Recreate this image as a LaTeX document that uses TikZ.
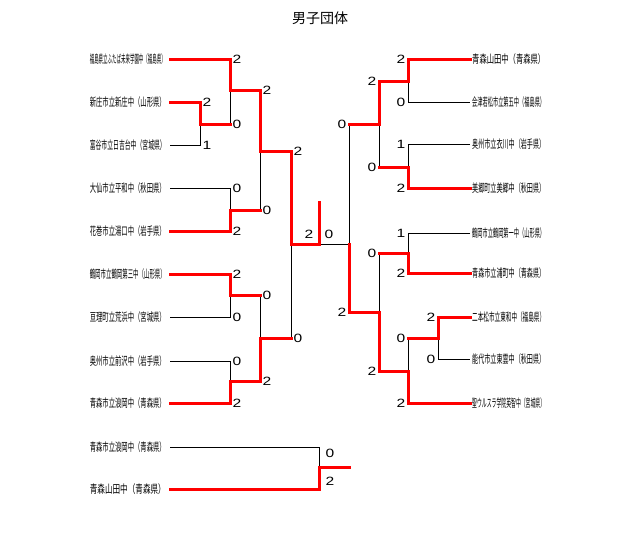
\documentclass[tikz,border=0pt]{standalone}
\usepackage{fontspec}
\usepackage{graphicx}
\setmainfont{Liberation Sans}
\newfontfamily\jpfont{Noto Sans CJK JP}
\newcommand\lnm[1]{\resizebox{76pt}{\height}{\jpfont\fontsize{11.5pt}{12pt}\selectfont #1}}
\newcommand\rnm[1]{\resizebox{73pt}{\height}{\jpfont\fontsize{11.5pt}{12pt}\selectfont #1}}
\newcommand\dg[1]{\scalebox{1.3}[1]{\fontsize{12pt}{12pt}\selectfont #1}}
\begin{document}
\begin{tikzpicture}[x=1pt,y=-1pt,
  win/.style={draw=red,line width=3pt,line cap=rect},
  lose/.style={draw=black,line width=0.9pt},
  lname/.style={anchor=east,inner sep=0pt},
  rname/.style={anchor=west,inner sep=0pt},
  sl/.style={anchor=west,inner sep=0pt,xshift=2.5pt},
  sr/.style={anchor=east,inner sep=0pt,xshift=-2.5pt},
  sc/.style={inner sep=0pt},
  title/.style={inner sep=0pt,font=\jpfont\fontsize{14pt}{14pt}\selectfont}]
\useasboundingbox (0,0) rectangle (640,533);
\node[title] (T) at (320,18) {男子団体};
% left names
\node[lname] (L1) at (166,59) {\lnm{福島県立ふたば未来学園中（福島県）}};
\node[lname] (L2) at (166,102) {\lnm{新庄市立新庄中（山形県）}};
\node[lname] (L3) at (166,145) {\lnm{富谷市立日吉台中（宮城県）}};
\node[lname] (L4) at (166,188) {\lnm{大仙市立平和中（秋田県）}};
\node[lname] (L5) at (166,231) {\lnm{花巻市立湯口中（岩手県）}};
\node[lname] (L6) at (166,274) {\lnm{鶴岡市立鶴岡第三中（山形県）}};
\node[lname] (L7) at (166,317) {\lnm{亘理町立荒浜中（宮城県）}};
\node[lname] (L8) at (166,361) {\lnm{奥州市立前沢中（岩手県）}};
\node[lname] (L9) at (166,403) {\lnm{青森市立浪岡中（青森県）}};
\node[lname] (L10) at (166,447) {\lnm{青森市立浪岡中（青森県）}};
\node[lname] (L11) at (166,489) {\lnm{青森山田中（青森県）}};
% right names
\node[rname] (R1) at (472,59) {\rnm{青森山田中（青森県）}};
\node[rname] (R2) at (472,102) {\rnm{会津若松市立第五中（福島県）}};
\node[rname] (R3) at (472,144) {\rnm{奥州市立衣川中（岩手県）}};
\node[rname] (R4) at (472,188) {\rnm{美郷町立美郷中（秋田県）}};
\node[rname] (R5) at (472,233) {\rnm{鶴岡市立鶴岡第一中（山形県）}};
\node[rname] (R6) at (472,273) {\rnm{青森市立浦町中（青森県）}};
\node[rname] (R7) at (472,317) {\rnm{二本松市立東和中（福島県）}};
\node[rname] (R8) at (472,359) {\rnm{能代市立東雲中（秋田県）}};
\node[rname] (R9) at (472,403) {\rnm{聖ウルスラ学院英智中（宮城県）}};
% line ends at names
\foreach \i in {1,...,11} {\coordinate (s\i) at ([xshift=4pt]L\i.east);}
\foreach \i in {1,...,9} {\coordinate (e\i) at ([xshift=-2pt]R\i.west);}
% junctions left
\coordinate (m1a) at (200,102); \coordinate (m1b) at (200,145); \coordinate (m1o) at (200,124);
\coordinate (m2a) at (230,59);  \coordinate (m2b) at (230,124); \coordinate (m2o) at (230,90);
\coordinate (m3a) at (230,188); \coordinate (m3b) at (230,231); \coordinate (m3o) at (230,210);
\coordinate (m4a) at (230,274); \coordinate (m4b) at (230,317); \coordinate (m4o) at (230,295);
\coordinate (m7a) at (230,361); \coordinate (m7b) at (230,403); \coordinate (m7o) at (230,381);
\coordinate (m5a) at (260,90);  \coordinate (m5b) at (260,210); \coordinate (m5o) at (260,151);
\coordinate (m6a) at (260,295); \coordinate (m6b) at (260,381); \coordinate (m6o) at (260,338);
\coordinate (m8a) at (291,151); \coordinate (m8b) at (291,338); \coordinate (m8o) at (291,244);
\coordinate (F) at (319,244); \coordinate (Ftop) at (319,202);
% junctions right
\coordinate (m9a) at (349,124); \coordinate (m9b) at (349,312); \coordinate (m9o) at (349,244);
\coordinate (m10a) at (379,81); \coordinate (m10b) at (379,167); \coordinate (m10o) at (379,124);
\coordinate (m11a) at (408,59); \coordinate (m11b) at (408,102); \coordinate (m11o) at (408,81);
\coordinate (m12a) at (408,144); \coordinate (m12b) at (408,188); \coordinate (m12o) at (408,167);
\coordinate (m13a) at (379,253); \coordinate (m13b) at (379,371); \coordinate (m13o) at (379,312);
\coordinate (m14a) at (408,233); \coordinate (m14b) at (408,273); \coordinate (m14o) at (408,253);
\coordinate (m15a) at (408,338); \coordinate (m15b) at (408,403); \coordinate (m15o) at (408,371);
\coordinate (m16a) at (438,317); \coordinate (m16b) at (438,359); \coordinate (m16o) at (438,338);
% bottom
\coordinate (mba) at (319,447); \coordinate (mbb) at (319,489); \coordinate (mbo) at (319,467); \coordinate (mbx) at (349,467);
% black lines first
\draw[lose] (m2o) -- (m2b);
\draw[lose] (m1o) -- (m1b) -- (s3);
\draw[lose] (s4) -- (m3a) -- (m3o);
\draw[lose] (m4o) -- (m4b) -- (s7);
\draw[lose] (s8) -- (m7a) -- (m7o);
\draw[lose] (m5o) -- (m5b);
\draw[lose] (m6a) -- (m6o);
\draw[lose] (m8o) -- (m8b);
\draw[lose] (F) -- (m9o);
\draw[lose] (m9a) -- (m9o);
\draw[lose] (m10o) -- (m10b);
\draw[lose] (m11o) -- (m11b) -- (e2);
\draw[lose] (e3) -- (m12a) -- (m12o);
\draw[lose] (m13a) -- (m13o);
\draw[lose] (e5) -- (m14a) -- (m14o);
\draw[lose] (m15a) -- (m15o);
\draw[lose] (m16o) -- (m16b) -- (e8);
\draw[lose] (s10) -- (mba) -- (mbo);
% red lines
\draw[win] (s1) -- (m2a) -- (m2o) -- (m5a);
\draw[win] (s2) -- (m1a) -- (m1o) -- (m2b);
\draw[win] (s5) -- (m3b) -- (m3o) -- (m5b);
\draw[win] (s6) -- (m4a) -- (m4o) -- (m6a);
\draw[win] (s9) -- (m7b) -- (m7o) -- (m6b);
\draw[win] (m5a) -- (m5o) -- (m8a);
\draw[win] (m6b) -- (m6o) -- (m8b);
\draw[win] (m8a) -- (m8o) -- (F) -- (Ftop);
\draw[win] (m9o) -- (m9b) -- (m13o);
\draw[win] (m9a) -- (m10o);
\draw[win] (m10o) -- (m10a) -- (m11o);
\draw[win] (m10b) -- (m12o);
\draw[win] (m11o) -- (m11a) -- (e1);
\draw[win] (m12o) -- (m12b) -- (e4);
\draw[win] (m13o) -- (m13b);
\draw[win] (m13a) -- (m14o);
\draw[win] (m13b) -- (m15o);
\draw[win] (m14o) -- (m14b) -- (e6);
\draw[win] (m15o) -- (m15b) -- (e9);
\draw[win] (m15a) -- (m16o);
\draw[win] (m16o) -- (m16a) -- (e7);
\draw[win] (s11) -- (mbb) -- (mbo) -- (mbx);
% scores left
\node[sl] (c1) at (m2a) {\dg{2}}; \node[sl] (c2) at (m2b) {\dg{0}};
\node[sl] (c3) at (m1a) {\dg{2}}; \node[sl] (c4) at (m1b) {\dg{1}};
\node[sl] (c5) at (m3a) {\dg{0}}; \node[sl] (c6) at (m3b) {\dg{2}};
\node[sl] (c7) at (m4a) {\dg{2}}; \node[sl] (c8) at (m4b) {\dg{0}};
\node[sl] (c9) at (m7a) {\dg{0}}; \node[sl] (c10) at (m7b) {\dg{2}};
\node[sl] (c11) at (m5a) {\dg{2}}; \node[sl] (c12) at (m5b) {\dg{0}};
\node[sl] (c13) at (m6a) {\dg{0}}; \node[sl] (c14) at (m6b) {\dg{2}};
\node[sl] (c15) at (m8a) {\dg{2}}; \node[sl] (c16) at (m8b) {\dg{0}};
\node[sc] (c17) at (309,234) {\dg{2}};
\node[sc] (c18) at (329,234) {\dg{0}};
% scores right
\node[sr] (d1) at (m9a) {\dg{0}}; \node[sr] (d2) at (m9b) {\dg{2}};
\node[sr] (d3) at (m10a) {\dg{2}}; \node[sr] (d4) at (m10b) {\dg{0}};
\node[sr] (d5) at (m11a) {\dg{2}}; \node[sr] (d6) at (m11b) {\dg{0}};
\node[sr] (d7) at (m12a) {\dg{1}}; \node[sr] (d8) at (m12b) {\dg{2}};
\node[sr] (d9) at (m13a) {\dg{0}}; \node[sr] (d10) at (m13b) {\dg{2}};
\node[sr] (d11) at (m14a) {\dg{1}}; \node[sr] (d12) at (m14b) {\dg{2}};
\node[sr] (d13) at (m15a) {\dg{0}}; \node[sr] (d14) at (m15b) {\dg{2}};
\node[sr] (d15) at (m16a) {\dg{2}}; \node[sr] (d16) at (m16b) {\dg{0}};
% bottom scores
\node[sc] (b1) at (330,453) {\dg{0}};
\node[sc] (b2) at (330,481) {\dg{2}};
\end{tikzpicture}
\end{document}
